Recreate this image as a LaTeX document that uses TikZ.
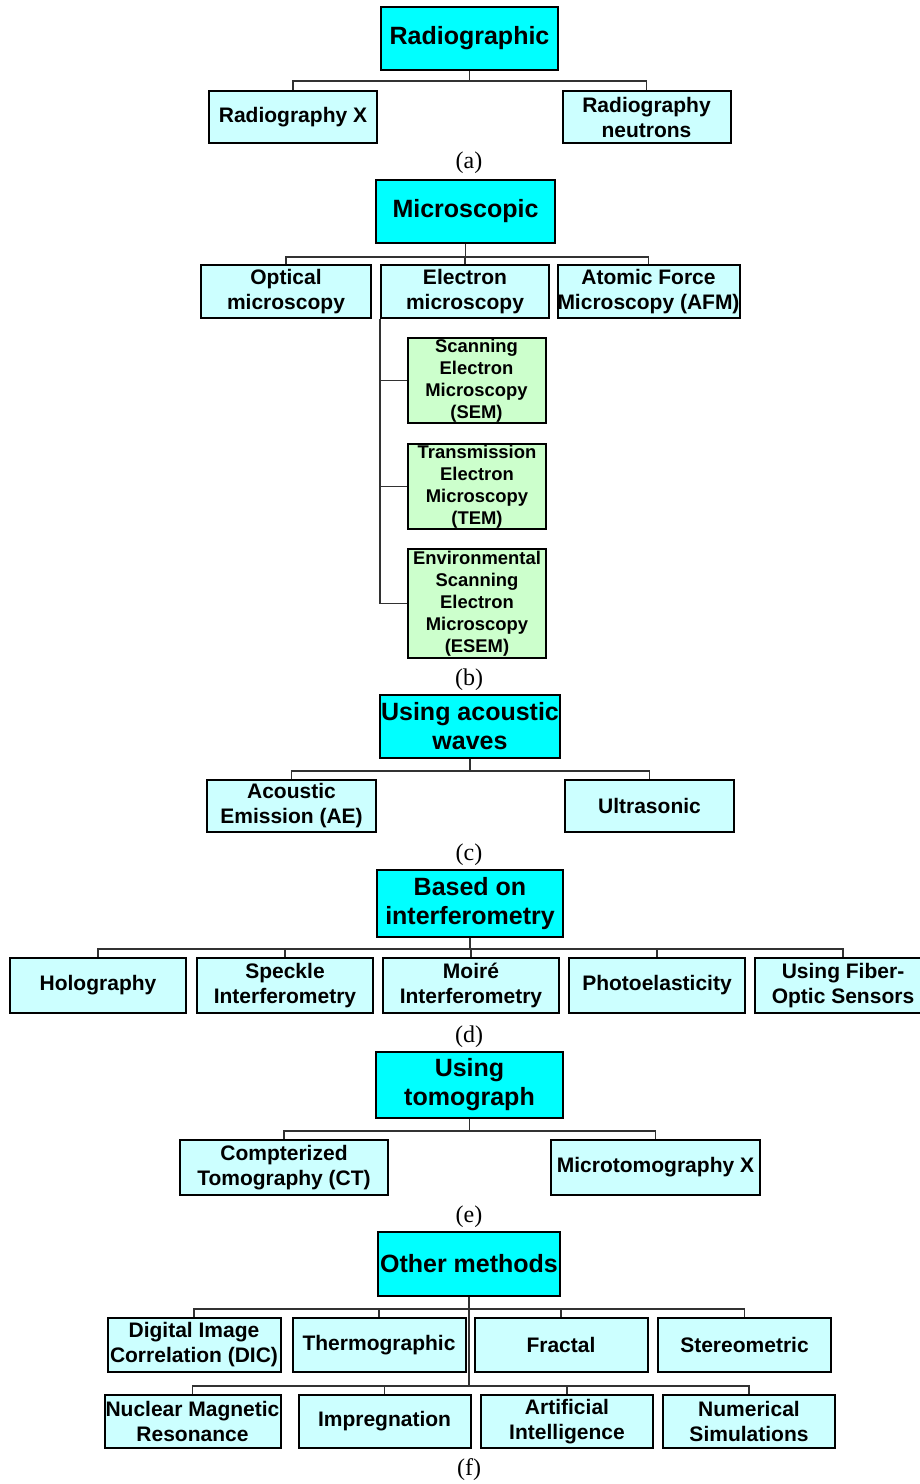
\documentclass[tikz,border=0pt]{standalone}
\usepackage{fontspec}
\setmainfont{Liberation Serif}
\setsansfont{Liberation Sans}
\usetikzlibrary{positioning,calc}
\definecolor{topcyan}{RGB}{0,255,255}
\definecolor{subcyan}{RGB}{204,255,255}
\definecolor{subgreen}{RGB}{204,255,204}
\definecolor{linkgray}{RGB}{50,50,50}
\tikzset{
	head/.style={draw, line width=1pt, fill=topcyan, align=center, inner sep=0pt,
		font=\sffamily\bfseries\fontsize{12.5}{14.5}\selectfont, minimum width=90pt, minimum height=31.5pt},
	leaf/.style={draw, line width=1pt, fill=subcyan, align=center, inner sep=0pt,
		font=\sffamily\bfseries\fontsize{10.5}{12.5}\selectfont, minimum width=84pt, minimum height=26pt},
	sub/.style={leaf, fill=subgreen, font=\sffamily\bfseries\fontsize{9.2}{11}\selectfont,
		minimum width=69pt, minimum height=42.5pt},
	tag/.style={font=\fontsize{12}{14}\selectfont, inner sep=0pt},
	link/.style={draw=linkgray, line width=0.7pt}
}

\begin{document}
\begin{tikzpicture}[x=0.5pt, y=-0.5pt]
	\useasboundingbox (0,0) rectangle (920,1484);

	% (a) radiographic
	\node[head, minimum width=88.5pt] (radio) at (469.5,38.5) {Radiographic};
	\node[leaf] (radx) at (293,117) {Radiography X};
	\node[leaf] (radn) at (646.5,117) {Radiography\\neutrons};
	\node[tag] (laba) at (469,163) {(a)};

	\draw[link] (radio.south) -- ++(0,10) -| (radx.north);
	\draw[link] (radio.south) -- ++(0,10) -| (radn.north);

	% (b) microscopic
	\node[head, minimum width=89.5pt] (micro) at (465.5,211.5) {Microscopic};
	\node[leaf, minimum width=85pt, minimum height=26.5pt] (optic) at (286,291.5) {Optical\\microscopy};
	\node[leaf, minimum height=26.5pt] (elec) at (465,291.5) {Electron\\microscopy};
	\node[leaf, minimum width=90.5pt, minimum height=26.5pt] (afm) at (648.5,291.5) {Atomic Force\\Microscopy (AFM)};
	\node[sub] (sem) at (476.5,380.5) {Scanning\\Electron\\Microscopy\\(SEM)};
	\node[sub] (tem) at (477,486.5) {Transmission\\Electron\\Microscopy\\(TEM)};
	\node[sub, minimum height=54.5pt] (esem) at (477,603.5) {Environmental\\Scanning\\Electron\\Microscopy\\(ESEM)};
	\node[tag] (labb) at (469,680) {(b)};

	\draw[link] (micro.south) -- ++(0,13) -| (optic.north);
	\draw[link] (micro.south) -- ++(0,13) -| (elec.north);
	\draw[link] (micro.south) -- ++(0,13) -| (afm.north);
	\draw[link] (elec.south west) |- (sem.west);
	\draw[link] (elec.south west) |- (tem.west);
	\draw[link] (elec.south west) |- (esem.west);

	% (c) acoustic waves
	\node[head] (acou) at (470,726.5) {Using acoustic\\waves};
	\node[leaf, minimum width=84.5pt] (ae) at (291.5,806) {Acoustic\\Emission (AE)};
	\node[leaf, minimum width=84.5pt] (ultra) at (649.5,806) {Ultrasonic};
	\node[tag] (labc) at (469,855) {(c)};

	\draw[link] (acou.south) -- ++(0,12) -| (ae.north);
	\draw[link] (acou.south) -- ++(0,12) -| (ultra.north);

	% (d) interferometry
	\node[head, minimum width=93pt, minimum height=33.5pt] (interf) at (470,903.5) {Based on\\interferometry};
	\node[leaf, minimum width=88pt, minimum height=27.5pt] (holo) at (98,985.5) {Holography};
	\node[leaf, minimum width=88pt, minimum height=27.5pt] (speck) at (285,985.5) {Speckle\\Interferometry};
	\node[leaf, minimum width=88pt, minimum height=27.5pt] (moire) at (471,985.5) {Moiré\\Interferometry};
	\node[leaf, minimum width=88pt, minimum height=27.5pt] (photo) at (657,985.5) {Photoelasticity};
	\node[leaf, minimum width=88pt, minimum height=27.5pt] (fiber) at (843,985.5) {Using Fiber-\\Optic Sensors};
	\node[tag] (labd) at (469,1037) {(d)};

	\draw[link] (interf.south) -- ++(0,11) -| (holo.north);
	\draw[link] (interf.south) -- ++(0,11) -| (speck.north);
	\draw[link] (interf.south) -- ++(0,11) -| (moire.north);
	\draw[link] (interf.south) -- ++(0,11) -| (photo.north);
	\draw[link] (interf.south) -- ++(0,11) -| (fiber.north);

	% (e) tomograph
	\node[head, minimum width=93.5pt, minimum height=33pt] (tomo) at (469.5,1085) {Using\\tomograph};
	\node[leaf, minimum width=104pt, minimum height=27.5pt] (ct) at (284,1167.5) {Compterized\\Tomography (CT)};
	\node[leaf, minimum width=104.5pt, minimum height=27.5pt] (mtx) at (655.5,1167.5) {Microtomography X};
	\node[tag] (labe) at (469,1217) {(e)};

	\draw[link] (tomo.south) -- ++(0,12) -| (ct.north);
	\draw[link] (tomo.south) -- ++(0,12) -| (mtx.north);

	% (f) other methods
	\node[head, minimum width=91pt, minimum height=32pt] (other) at (469,1264) {Other methods};
	\node[leaf, minimum width=86.5pt, minimum height=27pt] (dic) at (194,1345) {Digital Image\\Correlation (DIC)};
	\node[leaf, minimum width=86.5pt, minimum height=27pt] (thermo) at (379,1345) {Thermographic};
	\node[leaf, minimum width=86.5pt, minimum height=27pt] (fract) at (561,1345) {Fractal};
	\node[leaf, minimum width=86.5pt, minimum height=27pt] (stereo) at (744.5,1345) {Stereometric};
	\node[leaf, minimum width=88pt, minimum height=26.5pt] (nmr) at (192.5,1421.5) {Nuclear Magnetic\\Resonance};
	\node[leaf, minimum width=86pt, minimum height=26.5pt] (impreg) at (384.5,1421.5) {Impregnation};
	\node[leaf, minimum width=86pt, minimum height=26.5pt] (artint) at (567,1421.5) {Artificial\\Intelligence};
	\node[leaf, minimum width=86pt, minimum height=26.5pt] (numsim) at (749,1421.5) {Numerical\\Simulations};
	\node[tag] (labf) at (469,1470) {(f)};

	\draw[link] (other.south) -- ++(0,12) -| (dic.north);
	\draw[link] (other.south) -- ++(0,12) -| (thermo.north);
	\draw[link] (other.south) -- ++(0,12) -| (fract.north);
	\draw[link] (other.south) -- ++(0,12) -| (stereo.north);
	\draw[link] (other.south) -- ++(0,89) -| (nmr.north);
	\draw[link] (other.south) -- ++(0,89) -| (impreg.north);
	\draw[link] (other.south) -- ++(0,89) -| (artint.north);
	\draw[link] (other.south) -- ++(0,89) -| (numsim.north);
\end{tikzpicture}
\end{document}
